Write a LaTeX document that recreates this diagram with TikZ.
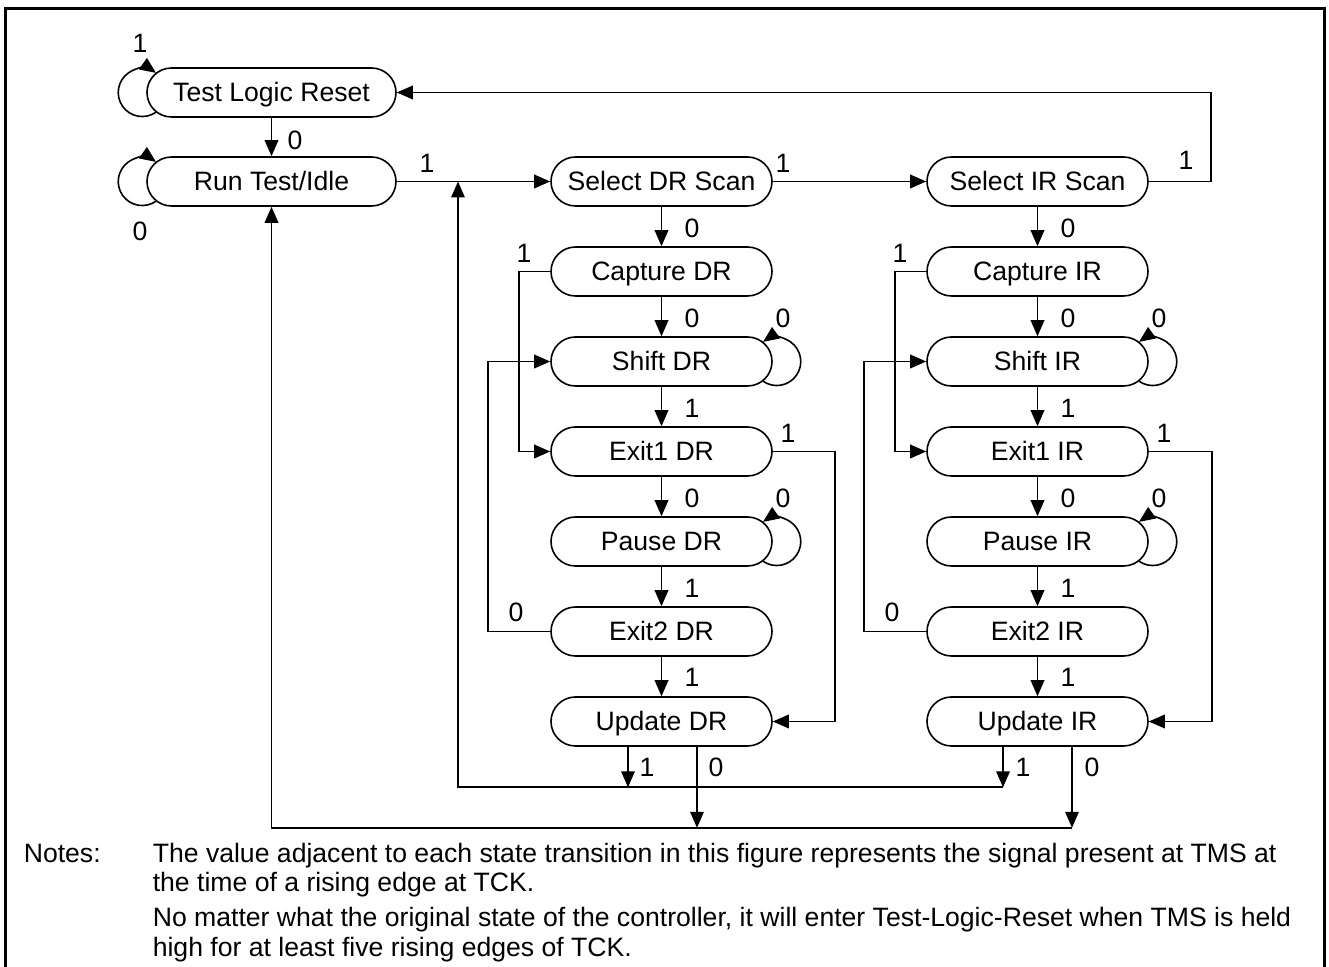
\documentclass[tikz,border=0pt]{standalone}
\usepackage{fontspec}
\setmainfont{Liberation Sans}
\usetikzlibrary{arrows.meta}
\begin{document}
\begin{tikzpicture}[x=0.5pt,y=-0.5pt,line width=0.8pt,
  font=\fontsize{13.3}{16}\selectfont,
  state/.style={draw, rounded corners=12.25pt, minimum height=24.5pt, minimum width=110.5pt,
    inner sep=0pt, text height=9.45pt, text depth=0pt, fill=white},
  wide/.style={minimum width=124.5pt},
  lbl/.style={inner sep=0pt},
  notetext/.style={anchor=base west, inner sep=0pt},
  arr/.style={-{Triangle[length=8pt,width=6.8pt]}}]
\useasboundingbox (0,0) rectangle (1329,967);
\draw[line width=1.5pt] (5,990) -- (5,8.5) -- (1324,8.5) -- (1324,990);

% states
\node[state,wide] (tlr) at (271.5,92.5) {Test Logic Reset};
\node[state,wide] (rti) at (271.5,181.5) {Run Test/Idle};
\node[state] (sdr)  at (661.5,181.5) {Select DR Scan};
\node[state] (cdr)  at (661.5,271.5) {Capture DR};
\node[state] (shdr) at (661.5,361.5) {Shift DR};
\node[state] (e1dr) at (661.5,451.5) {Exit1 DR};
\node[state] (pdr)  at (661.5,541.5) {Pause DR};
\node[state] (e2dr) at (661.5,631.5) {Exit2 DR};
\node[state] (udr)  at (661.5,721.5) {Update DR};
\node[state] (sir)  at (1037.5,181.5) {Select IR Scan};
\node[state] (cir)  at (1037.5,271.5) {Capture IR};
\node[state] (shir) at (1037.5,361.5) {Shift IR};
\node[state] (e1ir) at (1037.5,451.5) {Exit1 IR};
\node[state] (pir)  at (1037.5,541.5) {Pause IR};
\node[state] (e2ir) at (1037.5,631.5) {Exit2 IR};
\node[state] (uir)  at (1037.5,721.5) {Update IR};

% top connectors
\draw[arr] (tlr.south) -- (rti.north);
\draw[arr] (rti.east) -- (sdr.west);
\draw[arr] (sdr.east) -- (sir.west);
\draw[arr] (sir.east) -- ++(62,0) |- (tlr.east);

% self loops
\draw[arr] ([shift={(9.8,19.7)}]tlr.west) arc[start angle=55,end angle=305,radius=24];
\draw[arr] ([shift={(9.8,19.7)}]rti.west) arc[start angle=55,end angle=305,radius=24];
\draw[arr] ([shift={(-9.8,19.7)}]shdr.east) arc[start angle=125,end angle=-125,radius=24];
\draw[arr] ([shift={(-9.8,19.7)}]pdr.east) arc[start angle=125,end angle=-125,radius=24];
\draw[arr] ([shift={(-9.8,19.7)}]shir.east) arc[start angle=125,end angle=-125,radius=24];
\draw[arr] ([shift={(-9.8,19.7)}]pir.east) arc[start angle=125,end angle=-125,radius=24];

% DR column
\draw[arr] (sdr.south) -- (cdr.north);
\draw[arr] (cdr.south) -- (shdr.north);
\draw[arr] (shdr.south) -- (e1dr.north);
\draw[arr] (e1dr.south) -- (pdr.north);
\draw[arr] (pdr.south) -- (e2dr.north);
\draw[arr] (e2dr.south) -- (udr.north);
\draw[arr] (cdr.west) -- ++(-31,0) |- (e1dr.west);
\draw[arr] (e2dr.west) -- ++(-62,0) |- (shdr.west);
\draw[arr] (e1dr.east) -- ++(62,0) |- (udr.east);

% IR column
\draw[arr] (sir.south) -- (cir.north);
\draw[arr] (cir.south) -- (shir.north);
\draw[arr] (shir.south) -- (e1ir.north);
\draw[arr] (e1ir.south) -- (pir.north);
\draw[arr] (pir.south) -- (e2ir.north);
\draw[arr] (e2ir.south) -- (uir.north);
\draw[arr] (cir.west) -- ++(-31,0) |- (e1ir.west);
\draw[arr] (e2ir.west) -- ++(-62,0) |- (shir.west);
\draw[arr] (e1ir.east) -- ++(63,0) |- (uir.east);

% return buses
\coordinate (jn) at (458,181.5);
\draw[arr] ([shift={(-33.5,0)}]udr.south) -- ++(0,40.5) coordinate (b1a);
\draw[arr] ([shift={(-34.5,0)}]uir.south) -- ++(0,40.5) coordinate (b1b);
\draw[arr] (b1b) -| (jn);
\draw[arr] ([shift={(35.5,0)}]udr.south) -- ++(0,81) coordinate (b0a);
\draw[arr] ([shift={(34.5,0)}]uir.south) -- ++(0,81) coordinate (b0b);
\draw[arr] (b0b) -| (rti.south);

% labels
\node[lbl] (ltlr) at (140,43) {1};
\node[lbl] (lrti) at (140,231) {0};
\node[lbl] (ltr) at (295,140) {0};
\node[lbl] (lrs) at (427,163) {1};
\node[lbl] (lsd) at (783,163) {1};
\node[lbl] (lsi) at (1186,160) {1};
\foreach \dx/\nm in {0/d,376/i}{
  \node[lbl] (l1\nm) at (692+\dx,228) {0};
  \node[lbl] (l2\nm) at (524+\dx,253) {1};
  \node[lbl] (l3\nm) at (692+\dx,318) {0};
  \node[lbl] (l4\nm) at (783+\dx,318) {0};
  \node[lbl] (l5\nm) at (692+\dx,408) {1};
  \node[lbl] (l6\nm) at (788+\dx,433) {1};
  \node[lbl] (l7\nm) at (692+\dx,498) {0};
  \node[lbl] (l8\nm) at (783+\dx,498) {0};
  \node[lbl] (l9\nm) at (692+\dx,588) {1};
  \node[lbl] (la\nm) at (516+\dx,612) {0};
  \node[lbl] (lb\nm) at (692+\dx,677) {1};
  \node[lbl] (lc\nm) at (647+\dx,767) {1};
  \node[lbl] (ld\nm) at (716+\dx,767) {0};
}

% notes
\node[notetext] (n0) at (23,863) {Notes:};
\node[notetext] (n1) at (152,863) {The value adjacent to each state transition in this figure represents the signal present at TMS at};
\node[notetext] (n2) at (152,892) {the time of a rising edge at TCK.};
\node[notetext] (n3) at (152,927) {No matter what the original state of the controller, it will enter Test-Logic-Reset when TMS is held};
\node[notetext] (n4) at (152,957) {high for at least five rising edges of TCK.};
\end{tikzpicture}
\end{document}
